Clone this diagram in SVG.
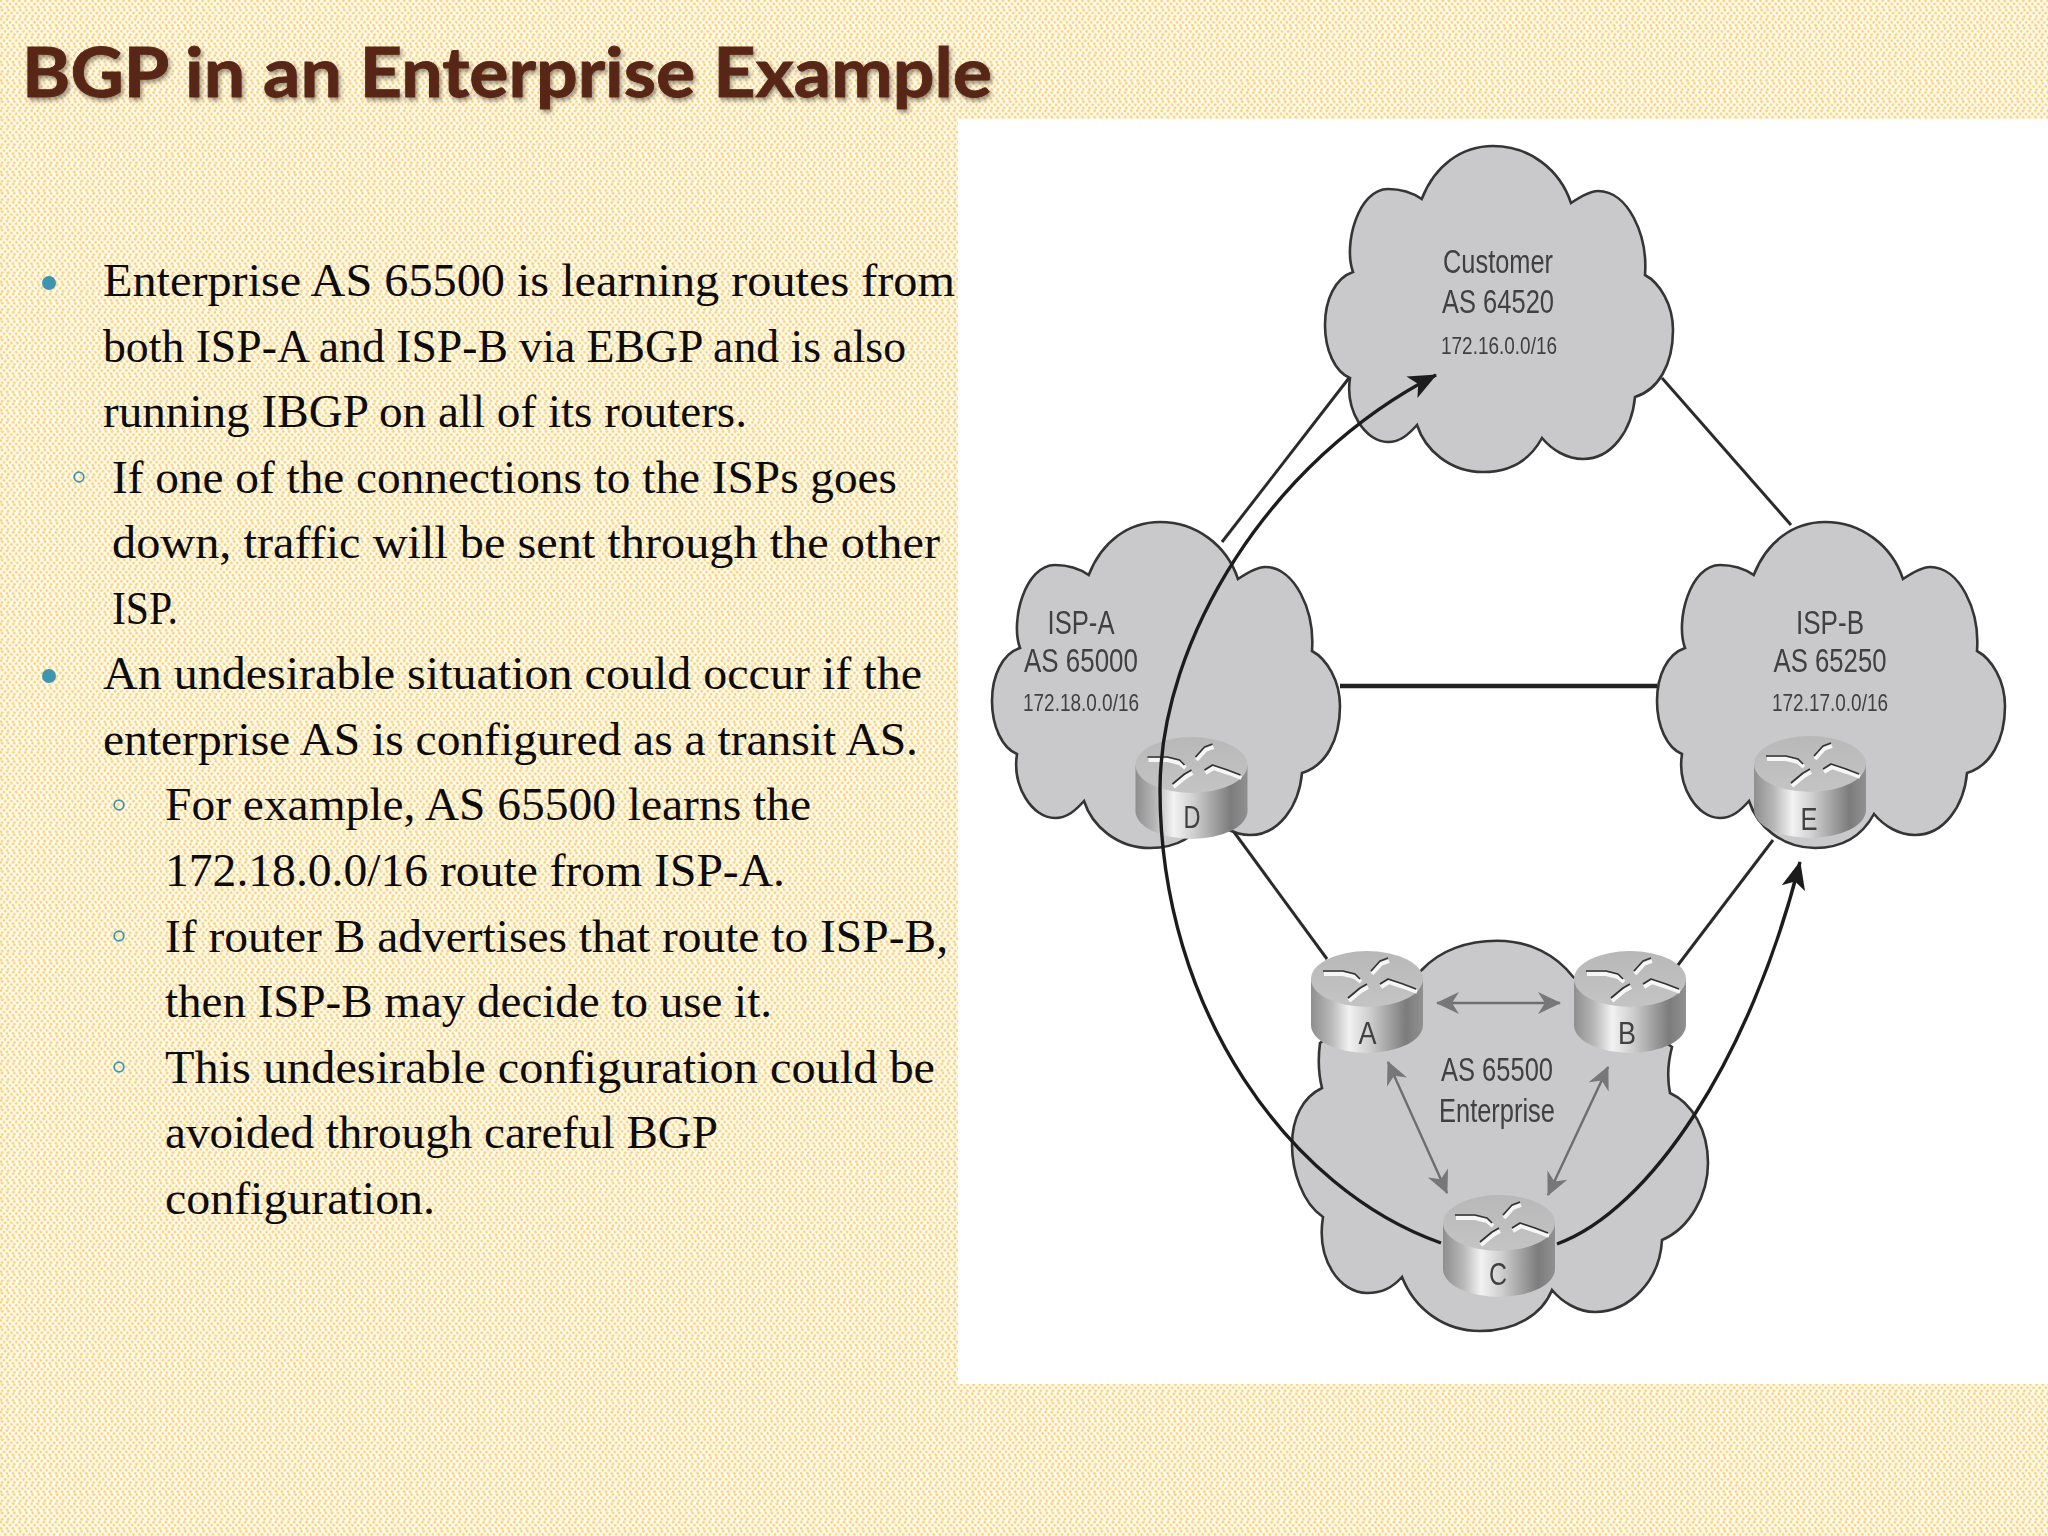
<svg xmlns="http://www.w3.org/2000/svg" width="2048" height="1536" viewBox="0 0 2048 1536">
<style>
.title{font-family:"Lato","Liberation Sans",sans-serif;font-weight:700;font-size:68px;fill:#592816;stroke:#592816;stroke-width:.9;filter:url(#ts)}
.b{font-family:"Liberation Serif",serif;font-size:46px;fill:#0c0c0c}
.c{fill:#c9c9cb;stroke:#343434;stroke-width:2.6}
.l{font-family:"Liberation Sans",sans-serif;fill:#404040;text-anchor:middle;font-size:33px}
.s{font-size:24px}
.r{font-size:32px}
.dot{fill:#3e95b0}
.ring{fill:none;stroke:#3e95b0;stroke-width:1.8}
.line{fill:none;stroke:#2c2c2c;stroke-width:3}
.curve{fill:none;stroke:#1e1e1e;stroke-width:3.4}
.g{fill:none;stroke:#6e6e6e;stroke-width:2.4;marker-start:url(#gs);marker-end:url(#ge)}
.node,#connectors{filter:url(#soft)}
</style>
<defs>
<filter id="ts" x="-5%" y="-20%" width="110%" height="150%"><feDropShadow dx="2" dy="3" stdDeviation="2" flood-color="#000" flood-opacity="0.4"/></filter>
<filter id="soft" filterUnits="userSpaceOnUse" x="950" y="110" width="1098" height="1280"><feGaussianBlur stdDeviation="0.55"/></filter>
<pattern id="bg" width="24" height="24" patternUnits="userSpaceOnUse" patternTransform="rotate(45) scale(1.08)">
<rect width="24" height="24" fill="#fffdf2"/>
<g fill="none" stroke="#fad07a" stroke-width="2.3" stroke-dasharray="2.4 1.6">
<path d="M-12 -12H0V0H12V12H24V24H36V36"/>
<path d="M-8 -16H4V-4H16V8H28V20H40V32"/>
<path d="M-4 -20H8V-8H20V4H32V16H44V28"/>
<path d="M0 -24H12V-12H24V0H36V12H48V24"/>
<path d="M-16 -8H-4V4H8V16H20V28H32V40"/>
<path d="M-20 -4H-8V8H4V20H16V32H28V44"/>
<path d="M-24 0H-12V12H0V24H12V36H24V48"/>
</g>
</pattern>
<linearGradient id="side" x1="0" x2="1" y1="0" y2="0">
<stop offset="0" stop-color="#8e8e8e"/><stop offset=".18" stop-color="#b8b8b8"/><stop offset=".34" stop-color="#f2f2f2"/><stop offset=".52" stop-color="#cfcfcf"/><stop offset=".85" stop-color="#7c7c7c"/><stop offset="1" stop-color="#909090"/>
</linearGradient>
<linearGradient id="top" x1="0" x2="0" y1="0" y2="1">
<stop offset="0" stop-color="#b8b8b8"/><stop offset="1" stop-color="#c4c4c4"/>
</linearGradient>
<path id="cloud" class="c" d="M1353 272C1343 245 1358 189 1388 189C1402 189 1413 193 1421.7 199C1435 165 1462 146 1493 146C1530 146 1560 170 1571 203C1583 195 1592 191 1598 191C1628 191 1648 235 1645 275C1660 283 1673 305 1673 330C1673 365 1658 390 1635 397C1632 430 1612 459 1583 459C1567 459 1552 450 1542 438C1530 460 1510 472 1483 472C1450 472 1425 450 1417 425C1408 435 1400 442 1388 442C1365 442 1345 410 1350 378C1335 372 1325 350 1325 325C1325 300 1335 278 1353 272Z"/>
<g id="router">
<path d="M-56 28V74A56 28 0 0 0 56 74V28Z" fill="url(#side)"/>
<ellipse cx="0" cy="28" rx="56" ry="28" fill="url(#top)"/>
<g fill="none" stroke="#f6f6f6" stroke-width="4" stroke-linejoin="round">
<path d="M-43 23L-24 23L-12 26L-6 31"/><path d="M5 23L14 13L22 10"/><path d="M14 36L22 31L37 36L50 41"/><path d="M-18 50L-6 40L1 36"/>
</g>
<g fill="none" stroke="#333" stroke-width="1.7" stroke-linejoin="round">
<path d="M-44 20L-24 20L-12 23L-7 28"/><path d="M4 20L13 10L21 7"/><path d="M13 33L21 28L36 33L49 38"/><path d="M-19 47L-7 37L0 33"/>
</g>
</g>
<marker id="bk" viewBox="0 0 28 26" refX="27" refY="13" markerWidth="28" markerHeight="26" markerUnits="userSpaceOnUse" orient="auto"><path d="M28 13L0 1L7 13L0 25Z" fill="#1e1e1e"/></marker>
<marker id="ge" viewBox="0 0 24 24" refX="23" refY="12" markerWidth="24" markerHeight="24" markerUnits="userSpaceOnUse" orient="auto"><path d="M24 12L1 1L8 12L1 23Z" fill="#777"/></marker>
<marker id="gs" viewBox="0 0 24 24" refX="1" refY="12" markerWidth="24" markerHeight="24" markerUnits="userSpaceOnUse" orient="auto"><path d="M0 12L23 1L16 12L23 23Z" fill="#777"/></marker>
</defs>

<rect width="2048" height="1536" fill="url(#bg)"/>
<rect x="958" y="119" width="1090" height="1265" fill="#fff"/>

<text class="title" x="22" y="97" textLength="970" lengthAdjust="spacingAndGlyphs">BGP in an Enterprise Example</text>

<g id="bullets">
<circle class="dot" cx="49" cy="283" r="7"/><circle class="dot" cx="49" cy="676" r="7"/>
<circle class="ring" cx="79" cy="477" r="4.8"/><circle class="ring" cx="119" cy="805" r="4.8"/><circle class="ring" cx="119" cy="936" r="4.8"/><circle class="ring" cx="119" cy="1067" r="4.8"/>
</g>
<g id="body" transform="translate(0 1)">
<text class="b" x="103" y="295" textLength="852" lengthAdjust="spacingAndGlyphs">Enterprise AS 65500 is learning routes from</text>
<text class="b" x="103" y="360.5" textLength="803" lengthAdjust="spacingAndGlyphs">both ISP-A and ISP-B via EBGP and is also</text>
<text class="b" x="103" y="426" textLength="644" lengthAdjust="spacingAndGlyphs">running IBGP on all of its routers.</text>
<text class="b" x="112" y="491.6" textLength="785" lengthAdjust="spacingAndGlyphs">If one of the connections to the ISPs goes</text>
<text class="b" x="112" y="557" textLength="828" lengthAdjust="spacingAndGlyphs">down, traffic will be sent through the other</text>
<text class="b" x="112" y="622.7" textLength="66" lengthAdjust="spacingAndGlyphs">ISP.</text>
<text class="b" x="103" y="688.3" textLength="819" lengthAdjust="spacingAndGlyphs">An undesirable situation could occur if the</text>
<text class="b" x="103" y="753.8" textLength="815" lengthAdjust="spacingAndGlyphs">enterprise AS is configured as a transit AS.</text>
<text class="b" x="165" y="819.4" textLength="646" lengthAdjust="spacingAndGlyphs">For example, AS 65500 learns the</text>
<text class="b" x="165" y="885" textLength="620" lengthAdjust="spacingAndGlyphs">172.18.0.0/16 route from ISP-A.</text>
<text class="b" x="165" y="950.5" textLength="783" lengthAdjust="spacingAndGlyphs">If router B advertises that route to ISP-B,</text>
<text class="b" x="165" y="1016" textLength="607" lengthAdjust="spacingAndGlyphs">then ISP-B may decide to use it.</text>
<text class="b" x="165" y="1081.6" textLength="770" lengthAdjust="spacingAndGlyphs">This undesirable configuration could be</text>
<text class="b" x="165" y="1147" textLength="553" lengthAdjust="spacingAndGlyphs">avoided through careful BGP</text>
<text class="b" x="165" y="1212.7" textLength="270" lengthAdjust="spacingAndGlyphs">configuration.</text>
</g>

<g id="cloud-customer" class="node">
<use href="#cloud"/>
<text class="l" x="1498" y="273" textLength="110" lengthAdjust="spacingAndGlyphs">Customer</text>
<text class="l" x="1498" y="313" textLength="112" lengthAdjust="spacingAndGlyphs">AS 64520</text>
<text class="l s" x="1499" y="354" textLength="116" lengthAdjust="spacingAndGlyphs">172.16.0.0/16</text>
</g>
<g id="cloud-isp-a" class="node">
<use href="#cloud" transform="translate(-333 376)"/>
<text class="l" x="1081" y="634" textLength="67" lengthAdjust="spacingAndGlyphs">ISP-A</text>
<text class="l" x="1081" y="672" textLength="114" lengthAdjust="spacingAndGlyphs">AS 65000</text>
<text class="l s" x="1081" y="711" textLength="116" lengthAdjust="spacingAndGlyphs">172.18.0.0/16</text>
</g>
<g id="cloud-isp-b" class="node">
<use href="#cloud" transform="translate(332 376)"/>
<text class="l" x="1830" y="634" textLength="68" lengthAdjust="spacingAndGlyphs">ISP-B</text>
<text class="l" x="1830" y="672" textLength="113" lengthAdjust="spacingAndGlyphs">AS 65250</text>
<text class="l s" x="1830" y="711" textLength="116" lengthAdjust="spacingAndGlyphs">172.17.0.0/16</text>
</g>
<g id="cloud-enterprise" class="node">
<path class="c" d="M1322 1088C1318 1072 1318 1058 1320 1043L1421.7 970C1440 950 1468 940.7 1497 940.7C1530 940.7 1556 955 1573 976.7L1672 1047C1668 1062 1667 1078 1670 1093C1692 1103 1708 1130 1708 1163C1708 1195 1690 1228 1662 1240C1660 1280 1630 1312 1595 1312C1578 1312 1562 1302 1552 1290C1542 1315 1515 1331 1480 1331C1445 1331 1415 1310 1402 1277C1392 1288 1382 1293 1367 1293C1340 1293 1316 1260 1323 1217C1302 1203 1292 1170 1292 1145C1292 1118 1303 1097 1322 1088Z"/>
<text class="l" x="1497" y="1081" textLength="112" lengthAdjust="spacingAndGlyphs">AS 65500</text>
<text class="l" x="1497" y="1122" textLength="116" lengthAdjust="spacingAndGlyphs">Enterprise</text>
</g>

<g id="router-a" class="node"><use href="#router" transform="translate(1367 951)"/><text class="l r" x="1367.5" y="1044" textLength="18" lengthAdjust="spacingAndGlyphs">A</text></g>
<g id="router-b" class="node"><use href="#router" transform="translate(1630 951)"/><text class="l r" x="1627" y="1044" textLength="18" lengthAdjust="spacingAndGlyphs">B</text></g>
<g id="router-c" class="node"><use href="#router" transform="translate(1499 1195)"/><text class="l r" x="1498" y="1285" textLength="18" lengthAdjust="spacingAndGlyphs">C</text></g>
<g id="router-d" class="node"><use href="#router" transform="translate(1191.5 737)"/><text class="l r" x="1192" y="828" textLength="17" lengthAdjust="spacingAndGlyphs">D</text></g>
<g id="router-e" class="node"><use href="#router" transform="translate(1810 736)"/><text class="l r" x="1809" y="830" textLength="17" lengthAdjust="spacingAndGlyphs">E</text></g>

<g id="connectors">
<path class="line" d="M1349 378L1222 542"/>
<path class="line" d="M1662 378L1791 525"/>
<path class="line" style="stroke-width:4.4;stroke:#222" d="M1340 686H1657"/>
<path class="line" d="M1234 832L1327 959"/>
<path class="line" d="M1773 840L1678 965"/>
<path class="g" d="M1437 1003H1560"/>
<path class="g" d="M1388 1062L1447 1193"/>
<path class="g" d="M1608 1067L1548 1195"/>
<path class="curve" marker-end="url(#bk)" d="M1441 1243C1290 1190 1160 1010 1160 790C1160 640 1270 460 1436 375"/>
<path class="curve" marker-end="url(#bk)" d="M1557 1244C1650 1210 1750 1060 1800 862"/>
</g>
</svg>
